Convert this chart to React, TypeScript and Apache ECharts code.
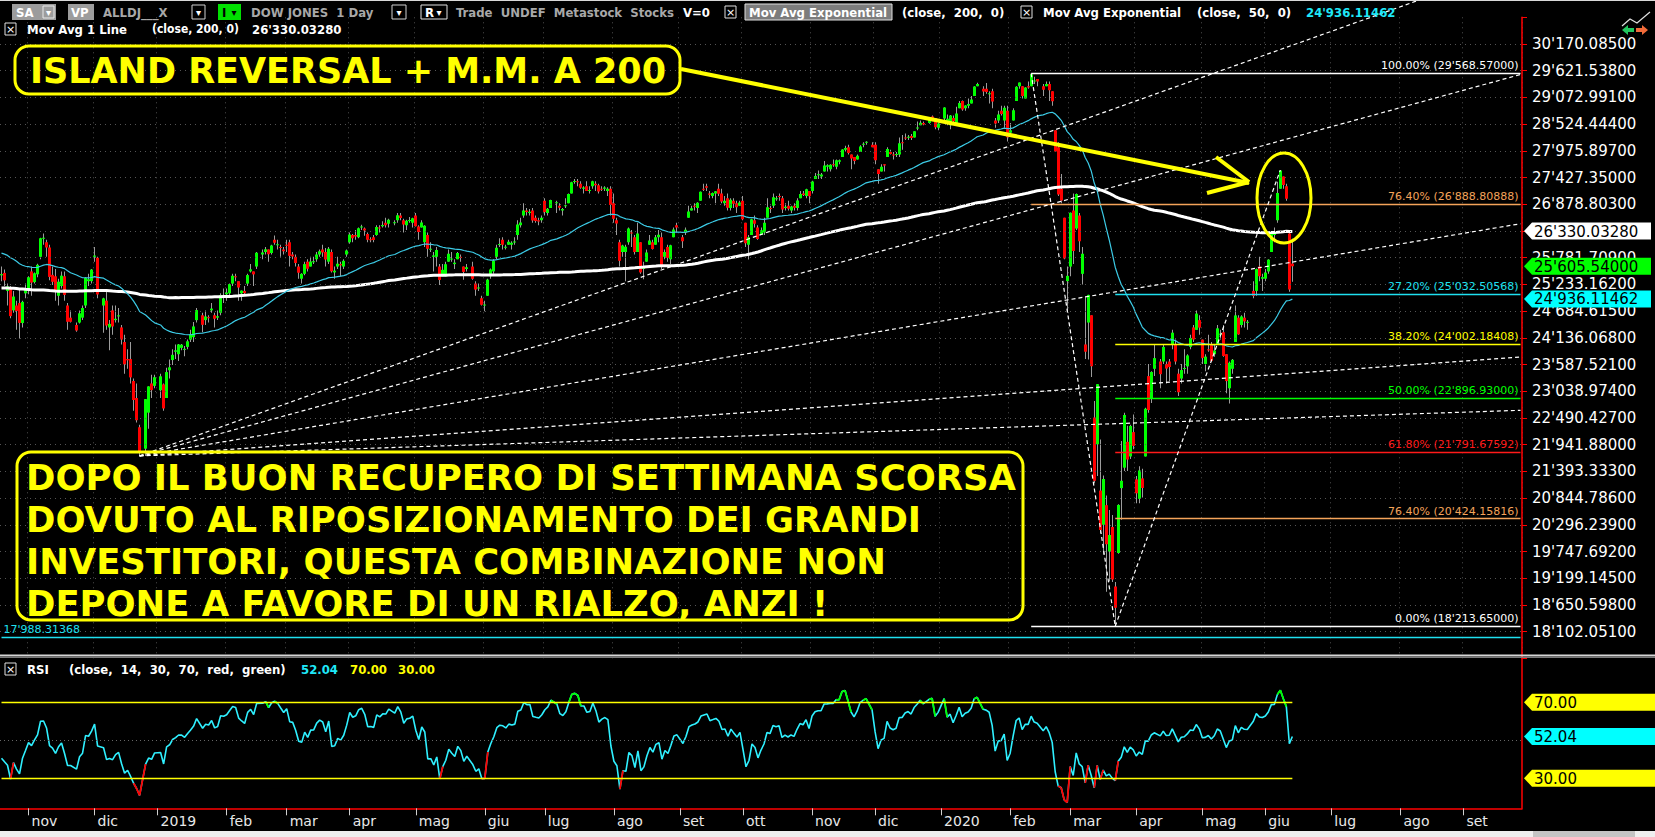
import { useEffect, useRef } from 'react';
import * as echarts from 'echarts';

// Daily closes Jan 2 – Oct 18, 2018 (needed so the 200/50-day averages and the RSI are warmed up)
const CLOSES_2018: number[] = [
  24824, 24922, 25075, 25295, 25283, 25385, 25370, 25574, 25803, 25792, 26116, 26017, 26072, 26214, 26211, 26252, 26392, 26617, 26439, 26077, 26149,
  26187, 25521, 24346, 24913, 24893, 23861, 24191, 24601, 24640, 24893, 25201, 25219, 24965, 24798, 24963, 25310, 25709, 25410, 25029,
  24609, 24538, 24875, 24885, 24801, 24896, 25336, 25179, 25008, 24758, 24873, 24947, 24611, 24727, 24683, 23958, 23533, 24202, 23857, 23849, 24103,
  23644, 24034, 24265, 24505, 23933, 23979, 24408, 24190, 24483, 24361, 24573, 24786, 24748, 24665, 24463, 24449, 24024, 24084, 24323, 24311, 24163,
  24100, 23925, 23930, 24263, 24357, 24361, 24543, 24740, 24831, 24899, 24706, 24769, 24714, 24715, 25013, 24834, 24887, 24812, 24753, 24362, 24668, 24416,
  24635, 24814, 24800, 25146, 25241, 25317, 25322, 25320, 25201, 25175, 25090, 24987, 24700, 24657, 24461, 24581, 24252, 24284, 24117, 24216, 24271,
  24307, 24175, 24357, 24457, 24776, 24920, 24700, 24925, 25019, 25064, 25120, 25200, 25065, 25058, 25044, 25241, 25415, 25527, 25451, 25307, 25415,
  25333, 25327, 25463, 25502, 25629, 25584, 25509, 25313, 25188, 25300, 25162, 25559, 25669, 25759, 25823, 25733, 25656, 25790, 26050, 26065, 26124, 25987, 25965,
  25952, 25975, 25996, 25917, 25857, 25971, 25999, 26145, 26155, 26062, 26246, 26406, 26657, 26744, 26562, 26493, 26385, 26440, 26458,
  26651, 26774, 26828, 26627, 26447, 26487, 26431, 25599, 25053, 25340, 25250, 25798, 25706, 25380,
];

// Weekday market holidays inside the plotted window (empty slots on the time axis)
const HOLIDAYS: string[] = [
  '2018-11-22', '2018-12-05', '2018-12-25', '2019-01-01', '2019-01-21', '2019-02-18', '2019-04-19', '2019-05-27',
  '2019-07-04', '2019-09-02', '2019-11-28', '2019-12-25', '2020-01-01', '2020-01-20', '2020-02-17', '2020-04-10', '2020-05-25',
];

// First and last weekday shown on the time axis
const FIRST_DAY = '2018-10-19';
const LAST_DAY = '2020-09-28';

// Daily candles [open, close, low, high], trading days from 2018-10-19 to 2020-06-12
const CANDLES: number[][] = [
  // ott 2018
  [25420, 25444, 25300, 25600], [25470, 25317, 25200, 25540], [25100, 25191, 24800, 25250], [25180, 24583, 24540, 25200], [24700, 24984, 24650, 25100],
  [24800, 24688, 24300, 24900], [24850, 24443, 24120, 25150], [24440, 24875, 24350, 24900], [25050, 25116, 24950, 25250],
  // nov 2018
  [25130, 25380, 25030, 25400], [25500, 25271, 25000, 25600], [25280, 25462, 25250, 25480], [25440, 25635, 25380, 25660], [25800, 26181, 25750, 26190],
  [26180, 26191, 26050, 26280], [26100, 25989, 25800, 26150], [25990, 25387, 25320, 26050], [25430, 25287, 25220, 25600], [25400, 25080, 24900, 25550],
  [25000, 25289, 24800, 25350], [25200, 25413, 25150, 25500], [25400, 25018, 24900, 25500], [24800, 24466, 24300, 24850], [24550, 24465, 24450, 24700],
  [24400, 24286, 24260, 24450], [24450, 24640, 24430, 24700], [24550, 24748, 24500, 24800], [24800, 25366, 24750, 25380], [25300, 25339, 25200, 25450],
  [25300, 25538, 25250, 25550],
  // dic 2018
  [25800, 25826, 25700, 26000], [25780, 25027, 24950, 25800], [24800, 24947, 24240, 24960], [24900, 24389, 24300, 25100], [24350, 24423, 23880, 24500],
  [24700, 24370, 24200, 24800], [24500, 24527, 24450, 24800], [24580, 24597, 24450, 24750], [24350, 24101, 24000, 24400], [24050, 23592, 23400, 24200],
  [23700, 23675, 23500, 23900], [23700, 23324, 23200, 24050], [23250, 22860, 22640, 23300], [22900, 22445, 22400, 23200], [22300, 21792, 21712, 22350],
  [21860, 22878, 21712, 22880], [22600, 23139, 22270, 23140], [23200, 23062, 22900, 23380], [23150, 23327, 23100, 23380],
  // gen 2019
  [23060, 23346, 22900, 23400], [23180, 22686, 22640, 23200], [22900, 23433, 22900, 23520], [23470, 23531, 23300, 23690], [23680, 23787, 23580, 23900],
  [23850, 23879, 23700, 24000], [23800, 24001, 23660, 24010], [23930, 23996, 23880, 24010], [23900, 23910, 23760, 23970], [23950, 24065, 23900, 24100],
  [24100, 24207, 24050, 24300], [24150, 24370, 24050, 24460], [24500, 24706, 24450, 24750], [24600, 24404, 24250, 24650], [24500, 24575, 24400, 24700],
  [24560, 24553, 24450, 24600], [24700, 24737, 24650, 24850], [24600, 24528, 24350, 24650], [24550, 24580, 24500, 24700], [24650, 25014, 24600, 25050],
  [25000, 24999, 24850, 25150],
  // feb 2019
  [25030, 25064, 24900, 25150], [25050, 25239, 25000, 25250], [25250, 25411, 25200, 25450], [25400, 25390, 25300, 25450], [25300, 25169, 24900, 25300],
  [25050, 25106, 24900, 25110], [25100, 25053, 25000, 25200], [25250, 25425, 25200, 25450], [25500, 25543, 25480, 25650], [25500, 25439, 25200, 25500],
  [25600, 25883, 25550, 25900], [25850, 25891, 25750, 25950], [25900, 25954, 25850, 26000], [25950, 25851, 25700, 25950], [25880, 26032, 25850, 26050],
  [26150, 26091, 26050, 26240], [26050, 26057, 25950, 26150], [26000, 25986, 25800, 26050], [25950, 25916, 25850, 26000],
  // mar 2019
  [26050, 26026, 25900, 26150], [26100, 25819, 25600, 26150], [25850, 25807, 25750, 25900], [25800, 25673, 25600, 25850], [25600, 25473, 25350, 25650],
  [25350, 25450, 25250, 25460], [25450, 25650, 25420, 25700], [25700, 25555, 25500, 25750], [25600, 25703, 25600, 25800], [25700, 25709, 25650, 25800],
  [25750, 25849, 25700, 25900], [25850, 25914, 25800, 25950], [25950, 25888, 25800, 26050], [25900, 25746, 25600, 25980], [25700, 25963, 25650, 26000],
  [25900, 25502, 25480, 25950], [25480, 25516, 25350, 25600], [25600, 25658, 25550, 25800], [25650, 25626, 25400, 25700], [25600, 25718, 25550, 25750],
  [25850, 25929, 25800, 25950],
  // apr 2019
  [26100, 26258, 26070, 26300], [26250, 26180, 26100, 26270], [26250, 26218, 26150, 26350], [26200, 26385, 26180, 26400], [26400, 26425, 26350, 26460],
  [26380, 26341, 26230, 26400], [26270, 26151, 26100, 26300], [26160, 26157, 26100, 26200], [26200, 26143, 26100, 26250], [26250, 26412, 26230, 26450],
  [26400, 26385, 26300, 26450], [26430, 26453, 26400, 26530], [26500, 26450, 26400, 26600], [26480, 26559, 26400, 26580], [26500, 26512, 26450, 26550],
  [26550, 26656, 26500, 26700], [26650, 26597, 26550, 26700], [26550, 26462, 26300, 26580], [26450, 26543, 26350, 26560], [26550, 26554, 26500, 26620],
  [26500, 26593, 26400, 26600],
  // mag 2019
  [26650, 26430, 26420, 26700], [26420, 26308, 26150, 26450], [26400, 26505, 26400, 26550], [26100, 26438, 26000, 26450], [26250, 25965, 25800, 26300],
  [25950, 25968, 25900, 26100], [25800, 25828, 25500, 25900], [25800, 25942, 25600, 26000], [25600, 25325, 25220, 25650], [25400, 25533, 25400, 25650],
  [25400, 25648, 25400, 25700], [25700, 25863, 25700, 25950], [25750, 25764, 25700, 25900], [25650, 25680, 25550, 25750], [25750, 25877, 25750, 25900],
  [25800, 25776, 25700, 25850], [25600, 25490, 25330, 25600], [25550, 25586, 25500, 25650], [25600, 25348, 25330, 25700], [25250, 25127, 25000, 25300],
  [25150, 25170, 25100, 25250], [24950, 24815, 24800, 25000],
  // giu 2019
  [24800, 24820, 24680, 24900], [25000, 25332, 25000, 25350], [25400, 25540, 25350, 25560], [25500, 25720, 25450, 25750], [25800, 25984, 25750, 26050],
  [26050, 26062, 26000, 26180], [26150, 26049, 25950, 26200], [26000, 26005, 25950, 26050], [26050, 26107, 26050, 26150], [26050, 26090, 25950, 26120],
  [26100, 26112, 26050, 26200], [26250, 26466, 26150, 26550], [26450, 26504, 26400, 26600], [26650, 26753, 26600, 26900], [26750, 26720, 26650, 26800],
  [26700, 26727, 26650, 26780], [26750, 26548, 26500, 26800], [26600, 26537, 26500, 26650], [26550, 26527, 26450, 26600], [26550, 26600, 26500, 26650],
  // lug 2019
  [26950, 26718, 26650, 27000], [26700, 26787, 26650, 26800], [26800, 26966, 26800, 26970], [26900, 26922, 26700, 26950], [26850, 26806, 26750, 26900],
  [26750, 26783, 26650, 26800], [26850, 26860, 26800, 27000], [26900, 27089, 26900, 27100], [27100, 27332, 27100, 27340], [27350, 27359, 27300, 27400],
  [27350, 27336, 27250, 27400], [27300, 27220, 27200, 27350], [27200, 27223, 27100, 27250], [27250, 27154, 27150, 27350], [27150, 27172, 27100, 27250],
  [27250, 27350, 27200, 27360], [27300, 27270, 27150, 27350], [27270, 27141, 27100, 27300], [27200, 27193, 27150, 27250], [27200, 27221, 27150, 27250],
  [27150, 27199, 27050, 27230], [27200, 26864, 26650, 27250],
  // ago 2019
  [26900, 26583, 26500, 27100], [26550, 26485, 26250, 26600], [26100, 25718, 25600, 26150], [25900, 26030, 25800, 26050], [25900, 26008, 25300, 26050],
  [26100, 26379, 26050, 26400], [26300, 26287, 26000, 26350], [26200, 25897, 25850, 26250], [25900, 26280, 25900, 26500], [26100, 25480, 25450, 26100],
  [25550, 25579, 25340, 25700], [25700, 25886, 25700, 25950], [26050, 26136, 26050, 26250], [26100, 25962, 25950, 26150], [26050, 26202, 26050, 26250],
  [26200, 26253, 26100, 26350], [26200, 25629, 25550, 26300], [25800, 25899, 25750, 25950], [26000, 25778, 25700, 26050], [25750, 26036, 25650, 26050],
  [26200, 26363, 26200, 26400], [26450, 26403, 26300, 26500],
  // set 2019
  [26200, 26118, 25980, 26250], [26300, 26355, 26250, 26400], [26600, 26728, 26600, 26850], [26750, 26797, 26750, 26850], [26850, 26835, 26750, 26900],
  [26800, 26910, 26700, 26920], [26950, 27137, 26950, 27140], [27200, 27182, 27150, 27300], [27250, 27220, 27150, 27300], [27100, 27076, 27000, 27150],
  [27050, 27111, 27000, 27120], [27100, 27147, 26900, 27150], [27200, 27094, 27050, 27300], [27100, 26935, 26900, 27200], [26900, 26949, 26850, 27050],
  [27000, 26808, 26750, 27100], [26800, 26970, 26750, 27000], [26950, 26891, 26800, 27000], [26900, 26820, 26700, 26950], [26850, 26917, 26850, 26950],
  // ott 2019
  [26950, 26573, 26550, 27050], [26500, 26079, 26000, 26500], [26050, 26202, 25743, 26250], [26250, 26573, 26250, 26580], [26550, 26478, 26400, 26650],
  [26400, 26165, 26150, 26450], [26250, 26347, 26250, 26400], [26300, 26497, 26250, 26600], [26600, 26817, 26600, 27000], [26800, 26787, 26700, 26850],
  [26850, 27025, 26800, 27100], [27000, 27001, 26950, 27050], [27050, 27026, 26950, 27100], [27000, 26770, 26700, 27050], [26800, 26828, 26750, 26900],
  [26850, 26788, 26750, 26950], [26750, 26834, 26700, 26850], [26850, 26806, 26750, 26900], [26800, 26958, 26750, 27000], [27000, 27091, 27000, 27150],
  [27100, 27071, 27050, 27150], [27050, 27186, 27000, 27200], [27150, 27046, 26900, 27150],
  // nov 2019
  [27150, 27347, 27100, 27360], [27400, 27462, 27400, 27520], [27480, 27493, 27400, 27570], [27450, 27492, 27400, 27520], [27550, 27675, 27550, 27770],
  [27650, 27681, 27550, 27700], [27600, 27691, 27550, 27700], [27700, 27691, 27650, 27800], [27650, 27784, 27600, 27800], [27750, 27782, 27700, 27800],
  [27850, 28005, 27850, 28010], [28000, 28036, 27950, 28080], [28050, 27934, 27900, 28100], [27900, 27821, 27600, 27900], [27850, 27767, 27700, 27850],
  [27800, 27876, 27800, 27900], [27950, 28067, 27950, 28090], [28100, 28122, 28050, 28150], [28150, 28164, 28100, 28175], [28100, 28051, 28050, 28150],
  // dic 2019
  [28100, 27783, 27700, 28150], [27600, 27503, 27300, 27600], [27550, 27650, 27550, 27700], [27700, 27677, 27550, 27700], [27850, 28015, 27850, 28050],
  [27950, 27909, 27900, 28000], [27900, 27882, 27800, 27950], [27900, 27911, 27850, 27950], [27900, 28132, 27850, 28250], [28150, 28135, 28000, 28300],
  [28250, 28235, 28200, 28330], [28250, 28267, 28200, 28300], [28280, 28239, 28200, 28320], [28250, 28377, 28250, 28380], [28450, 28455, 28400, 28580],
  [28500, 28551, 28500, 28600], [28550, 28515, 28500, 28580], [28550, 28621, 28530, 28630], [28680, 28645, 28600, 28700], [28650, 28462, 28420, 28650],
  [28450, 28538, 28400, 28560],
  // gen 2020
  [28640, 28868, 28600, 28870], [28550, 28634, 28500, 28720], [28500, 28703, 28420, 28710], [28650, 28584, 28550, 28700], [28550, 28745, 28500, 28880],
  [28850, 28957, 28850, 29000], [29000, 28824, 28800, 29010], [28850, 28907, 28800, 28910], [28900, 28940, 28850, 29050], [28950, 29030, 28950, 29100],
  [29100, 29298, 29100, 29300], [29300, 29348, 29300, 29375], [29250, 29196, 29100, 29300], [29250, 29186, 29150, 29370], [29150, 29160, 28950, 29200],
  [29200, 28990, 28850, 29250], [28600, 28536, 28450, 28650], [28600, 28723, 28550, 28800], [28800, 28734, 28700, 28900], [28600, 28859, 28450, 28900],
  [28800, 28256, 28170, 28900],
  // feb 2020
  [28350, 28400, 28300, 28550], [28600, 28808, 28600, 28850], [29000, 29291, 29000, 29300], [29300, 29380, 29250, 29380], [29300, 29103, 29050, 29300],
  [29050, 29276, 29050, 29280], [29300, 29276, 29250, 29400], [29300, 29551, 29300, 29568.57], [29400, 29423, 29350, 29500], [29450, 29398, 29300, 29450],
  [29300, 29232, 29100, 29350], [29300, 29348, 29300, 29400], [29350, 29219, 29000, 29400], [29200, 28992, 28900, 29200], [28400, 27961, 27950, 28400],
  [28050, 27081, 27050, 28150], [27200, 26957, 26900, 27500], [26600, 25766, 25750, 26600], [25300, 25409, 24680, 25600],
  // mar 2020
  [25600, 26703, 25400, 26710], [26750, 25917, 25650, 27100], [26380, 27091, 26350, 27100], [26650, 26121, 25900, 26700], [25450, 25865, 25230, 26000],
  [24000, 23851, 23700, 24990], [24450, 25018, 23690, 25020], [24600, 23553, 23330, 24600], [22500, 21200, 21150, 22840], [21950, 23185, 21300, 23190],
  [21000, 20189, 20120, 22050], [20300, 21237, 19680, 21310], [20700, 19899, 18920, 20900], [19750, 20087, 19130, 20600], [20250, 19174, 19120, 20500],
  [19030, 18592, 18213.65, 19120], [19720, 20705, 19700, 20720], [21050, 21201, 20400, 22020], [21470, 22552, 21400, 22600], [22000, 21637, 21400, 22330],
  [21700, 22327, 21650, 22350], [22200, 21917, 21850, 22560],
  // apr 2020
  [21230, 20944, 20740, 21300], [20830, 21413, 20740, 21500], [21250, 21053, 20860, 21450], [21700, 22680, 21700, 22700], [23350, 22654, 22600, 23600],
  [22900, 23434, 22800, 23450], [23500, 23720, 23350, 24000], [23650, 23390, 23100, 23700], [23650, 23950, 23600, 24000], [23600, 23505, 23200, 23650],
  [23650, 23538, 23250, 23700], [24000, 24242, 23900, 24300], [24000, 23650, 23600, 24100], [23400, 23019, 22940, 23500], [23300, 23475, 23200, 23600],
  [23500, 23516, 23400, 23900], [23550, 23775, 23400, 23800], [23950, 24134, 23900, 24200], [24350, 24102, 24050, 24400], [24300, 24634, 24300, 24700],
  [24500, 24346, 24200, 24600],
  // mag 2020
  [24100, 23724, 23600, 24100], [23600, 23750, 23450, 23800], [23900, 23883, 23850, 24200], [24000, 23664, 23650, 24050], [23800, 23875, 23750, 24000],
  [24000, 24331, 24000, 24400], [24200, 24222, 24100, 24300], [24250, 23764, 23750, 24400], [23800, 23248, 23000, 23800], [23100, 23625, 22790, 23650],
  [23500, 23685, 23400, 23700], [24050, 24597, 24050, 24800], [24550, 24207, 24200, 24600], [24400, 24576, 24350, 24600], [24550, 24474, 24350, 24650],
  [24450, 24465, 24300, 24500], [25100, 24995, 24950, 25300], [25100, 25548, 25000, 25560], [25600, 25401, 25300, 25800], [25350, 25383, 25100, 25450],
  // giu 2020
  [25350, 25475, 25300, 25550], [25500, 25742, 25450, 25750], [25900, 26270, 25900, 26300], [26250, 26282, 26100, 26400], [26550, 27111, 26500, 27340],
  [27200, 27572, 27200, 27580.22], [27450, 27273, 27200, 27450], [27250, 26990, 26950, 27300], [26280, 25128, 25080, 26300], [25660, 25605.54, 25290, 26170],
];

// Right-hand price scale
const PRICE_TICKS: number[] = [
  18102.051, 18650.598, 19199.145, 19747.692, 20296.239, 20844.786, 21393.333, 21941.88, 22490.427, 23038.974, 23587.521, 24136.068,
  24684.615, 25233.162, 25781.709, 26330.256, 26878.803, 27427.35, 27975.897, 28524.444, 29072.991, 29621.538, 30170.085,
];
const PRICE_STEP = 548.547;

// Fibonacci retracements: Feb-high → Mar-low, and Mar-low → Jun-high
const FIB_PCT: string[] = ['100.00%', '76.40%', '0.00%', '27.20%', '38.20%', '50.00%', '61.80%', '76.40%'];
const FIB_VALUE: number[] = [29568.57, 26888.80888, 18213.65, 25032.50568, 24002.18408, 22896.93, 21791.67592, 20424.15816];
const FIB_FROM: string[] = ['2020-02-12', '2020-02-12', '2020-02-12', '2020-03-23', '2020-03-23', '2020-03-23', '2020-03-23', '2020-03-23'];

// Horizontal support line
const SUPPORT_VALUE = 17988.31368;

// Dashed trend / fan lines as [date, price] → [date, price]
const TREND_LINES: [string, number, string, number][] = [
  ['2020-02-12', 29568.57, '2020-03-23', 18213.65],
  ['2020-03-23', 18213.65, '2020-06-08', 27580.22],
  ['2018-12-24', 21712, LAST_DAY, 31814],
  ['2018-12-24', 21712, LAST_DAY, 29544],
  ['2018-12-24', 21712, LAST_DAY, 26479],
  ['2018-12-24', 21712, LAST_DAY, 23743],
  ['2018-12-24', 21712, LAST_DAY, 22648],
];

// Last readings printed in the headers and on the scales
const SMA200_LAST = 26330.0328;
const EMA50_LAST = 24936.11462;
const CLOSE_LAST = 25605.54;
const RSI_LAST = 52.04;
const RSI_UPPER = 70;
const RSI_LOWER = 30;

const MONTHS = ['gen', 'feb', 'mar', 'apr', 'mag', 'giu', 'lug', 'ago', 'set', 'ott', 'nov', 'dic'];

const NOTE_TITLE = 'ISLAND REVERSAL + M.M. A 200';
const NOTE_LINES = [
  'DOPO IL BUON RECUPERO DI SETTIMANA SCORSA',
  'DOVUTO AL RIPOSIZIONAMENTO DEI GRANDI',
  'INVESTITORI, QUESTA COMBINAZIONE NON',
  'DEPONE A FAVORE DI UN RIALZO, ANZI !',
];

// ---------------------------------------------------------------------------

const UI_FONT = '"DejaVu Sans Condensed", "DejaVu Sans", sans-serif';
const AXIS_FONT = '"DejaVu Sans", sans-serif';

const fmtPrice = (v: number) => {
  const [i, d] = v.toFixed(5).split('.');
  return i.replace(/\B(?=(\d{3})+(?!\d))/g, "'") + '.' + d;
};

const buildSlots = () => {
  const out: string[] = [];
  const d = new Date(FIRST_DAY + 'T00:00:00Z');
  const end = new Date(LAST_DAY + 'T00:00:00Z').getTime();
  while (d.getTime() <= end) {
    const wd = d.getUTCDay();
    if (wd !== 0 && wd !== 6) out.push(d.toISOString().slice(0, 10));
    d.setUTCDate(d.getUTCDate() + 1);
  }
  return out;
};

const SLOTS = buildSlots();
const N = SLOTS.length;

// slot index of every trading day
const TRADE_SLOT: number[] = (() => {
  const hol = new Set(HOLIDAYS);
  const out: number[] = [];
  for (let s = 0; s < N && out.length < CANDLES.length; s++) {
    if (!hol.has(SLOTS[s])) out.push(s);
  }
  return out;
})();

const closesAll = CLOSES_2018.concat(CANDLES.map((c) => c[1]));
const OFF = CLOSES_2018.length;

const smaSeries = (n: number) => {
  const out: (number | null)[] = closesAll.map(() => null);
  let sum = 0;
  for (let i = 0; i < closesAll.length; i++) {
    sum += closesAll[i];
    if (i >= n) sum -= closesAll[i - n];
    if (i >= n - 1) out[i] = sum / n;
  }
  return out;
};

const emaSeries = (n: number) => {
  const out: (number | null)[] = closesAll.map(() => null);
  const k = 2 / (n + 1);
  let e = 0;
  for (let i = 0; i < n; i++) e += closesAll[i];
  e /= n;
  out[n - 1] = e;
  for (let i = n; i < closesAll.length; i++) {
    e = closesAll[i] * k + e * (1 - k);
    out[i] = e;
  }
  return out;
};

const rsiSeries = (n: number) => {
  const out: (number | null)[] = closesAll.map(() => null);
  let g = 0;
  let l = 0;
  for (let i = 1; i <= n; i++) {
    const ch = closesAll[i] - closesAll[i - 1];
    if (ch > 0) g += ch;
    else l -= ch;
  }
  g /= n;
  l /= n;
  out[n] = 100 - 100 / (1 + g / l);
  for (let i = n + 1; i < closesAll.length; i++) {
    const ch = closesAll[i] - closesAll[i - 1];
    g = (g * (n - 1) + Math.max(ch, 0)) / n;
    l = (l * (n - 1) + Math.max(-ch, 0)) / n;
    out[i] = l === 0 ? 100 : 100 - 100 / (1 + g / l);
  }
  return out;
};

const toSlots = (vals: (number | null)[]) => {
  const out: (number | null)[] = new Array(N).fill(null);
  TRADE_SLOT.forEach((s, j) => {
    out[s] = vals[j + OFF];
  });
  return out;
};

const SMA200 = toSlots(smaSeries(200));
const EMA50 = toSlots(emaSeries(50));
const RSI_ALL = rsiSeries(14);
const RSI = toSlots(RSI_ALL);

const isMonthStart = (i: number) => i > 0 && SLOTS[i].slice(0, 7) !== SLOTS[i - 1].slice(0, 7);
const slotOf = (d: string) => SLOTS.indexOf(d);

const rsiOverlay = (test: (v: number) => boolean) => {
  const out: any[] = [];
  for (let j = 1; j < CANDLES.length; j++) {
    const a = RSI_ALL[j - 1 + OFF];
    const b = RSI_ALL[j + OFF];
    if (a != null && b != null && test(a)) {
      out.push([TRADE_SLOT[j - 1], a], [TRADE_SLOT[j], b], [TRADE_SLOT[j], '-']);
    }
  }
  return out;
};

// Liang–Barsky clip of a segment to a rectangle
const clipSegment = (x1: number, y1: number, x2: number, y2: number, xmin: number, ymin: number, xmax: number, ymax: number) => {
  let t0 = 0;
  let t1 = 1;
  const dx = x2 - x1;
  const dy = y2 - y1;
  const p = [-dx, dx, -dy, dy];
  const q = [x1 - xmin, xmax - x1, y1 - ymin, ymax - y1];
  for (let i = 0; i < 4; i++) {
    if (p[i] === 0) {
      if (q[i] < 0) return null;
    } else {
      const t = q[i] / p[i];
      if (p[i] < 0) {
        if (t > t1) return null;
        if (t > t0) t0 = t;
      } else {
        if (t < t0) return null;
        if (t < t1) t1 = t;
      }
    }
  }
  return [x1 + t0 * dx, y1 + t0 * dy, x1 + t1 * dx, y1 + t1 * dy];
};

const FIB_COLORS = ['#ffffff', '#f4a35a', '#ffffff', '#1fe0f0', '#ffff00', '#00ff00', '#ff1a1a', '#f4a35a'];

function buildOption(): any {
  const lastSlot = TRADE_SLOT[TRADE_SLOT.length - 1];
  const candleData = CANDLES.map((c, j) => [TRADE_SLOT[j], c[0], c[1], c[2], c[3]]);

  const xBase = {
    type: 'category',
    data: SLOTS,
    boundaryGap: true,
    axisLine: { show: false },
    axisTick: { show: false },
    axisLabel: { show: false },
    splitLine: {
      show: true,
      interval: (i: number) => isMonthStart(i),
      lineStyle: { color: '#4d4d4d', type: [1, 4], width: 1 },
    },
  };

  return {
    animation: false,
    backgroundColor: '#000000',
    grid: [
      { left: -1, width: 1523, top: 17.287, height: 641.107 },
      { left: -1, width: 1523, top: 656.7, height: 151.6 },
    ],
    xAxis: [
      { ...xBase, gridIndex: 0 },
      {
        ...xBase,
        gridIndex: 1,
        axisLine: { show: true, lineStyle: { color: '#ff0000', width: 1.5 } },
        axisTick: {
          show: true,
          alignWithLabel: true,
          interval: (i: number) => isMonthStart(i),
          length: 7,
          lineStyle: { color: '#d0d0d0' },
        },
        axisLabel: {
          show: true,
          interval: (i: number) => isMonthStart(i),
          formatter: (v: string) => {
            const m = +v.slice(5, 7);
            return m === 1 ? v.slice(0, 4) : MONTHS[m - 1];
          },
          color: '#e8e8e8',
          fontSize: 14,
          fontFamily: AXIS_FONT,
          align: 'left',
          padding: [0, 0, 0, 3],
          margin: 6,
        },
        splitLine: { show: false },
      },
    ],
    yAxis: [
      {
        type: 'value',
        gridIndex: 0,
        position: 'right',
        min: PRICE_TICKS[0] - PRICE_STEP,
        max: PRICE_TICKS[PRICE_TICKS.length - 1] + PRICE_STEP,
        interval: PRICE_STEP,
        axisLine: { show: true, lineStyle: { color: '#ff0000', width: 1.5 } },
        axisTick: { show: true, length: 5, lineStyle: { color: '#ff0000' } },
        axisLabel: {
          margin: 10,
          color: '#ffffff',
          fontSize: 15,
          fontFamily: AXIS_FONT,
          formatter: (v: number) => (v < PRICE_TICKS[0] - 1 || v > PRICE_TICKS[PRICE_TICKS.length - 1] + 1 ? '' : fmtPrice(v)),
        },
        splitLine: { show: false },
      },
      {
        type: 'value',
        gridIndex: 1,
        position: 'right',
        min: 14.21,
        max: 94,
        axisLine: { show: true, lineStyle: { color: '#ff0000', width: 1.5 } },
        axisTick: { show: false },
        axisLabel: { show: false },
        splitLine: { show: false },
      },
    ],
    series: [
      // dotted price grid
      {
        name: 'grid',
        type: 'line',
        data: [],
        z: 1,
        markLine: {
          silent: true,
          symbol: ['none', 'none'],
          label: { show: false },
          lineStyle: { color: '#555555', type: [1, 4], width: 1 },
          data: PRICE_TICKS.map((v) => ({ yAxis: v })),
        },
      },
      {
        name: 'candles',
        type: 'custom',
        z: 2,
        clip: true,
        data: candleData,
        encode: { x: 0, y: [1, 2, 3, 4] },
        renderItem: (_p: any, api: any) => {
          const i = api.value(0);
          const o = api.value(1);
          const c = api.value(2);
          const lo = api.value(3);
          const hi = api.value(4);
          const pTop = api.coord([i, Math.max(o, c)]);
          const pBot = api.coord([i, Math.min(o, c)]);
          const pHi = api.coord([i, hi]);
          const pLo = api.coord([i, lo]);
          const x = Math.floor(pTop[0]);
          return {
            type: 'group',
            children: [
              { type: 'rect', shape: { x, y: pHi[1], width: 1, height: Math.max(1, pLo[1] - pHi[1]) }, style: { fill: '#9c9c9c' } },
              {
                type: 'rect',
                shape: { x: x - 1, y: pTop[1], width: 3, height: Math.max(1, pBot[1] - pTop[1]) },
                style: { fill: c >= o ? '#00ff00' : '#ff0000' },
              },
            ],
          };
        },
      },
      {
        name: 'fibo',
        type: 'line',
        data: [],
        z: 3,
        markLine: {
          silent: true,
          symbol: ['none', 'none'],
          data: [
            ...FIB_VALUE.map((v, k) => [
              {
                coord: [slotOf(FIB_FROM[k]), v],
                lineStyle: { color: FIB_COLORS[k], width: 1.3, type: 'solid' },
                label: {
                  show: true,
                  position: 'insideEndTop',
                  distance: 2,
                  formatter: `${FIB_PCT[k]} (${fmtPrice(v)})`,
                  color: FIB_COLORS[k],
                  fontSize: 11,
                  fontFamily: AXIS_FONT,
                },
              },
              { coord: [N - 1, v] },
            ]),
            [
              {
                coord: [0, SUPPORT_VALUE],
                lineStyle: { color: '#1fe0f0', width: 1.3, type: 'solid' },
                label: {
                  show: true,
                  position: 'insideStartTop',
                  distance: 2,
                  formatter: fmtPrice(SUPPORT_VALUE),
                  color: '#1fe0f0',
                  fontSize: 11,
                  fontFamily: AXIS_FONT,
                },
              },
              { coord: [N - 1, SUPPORT_VALUE] },
            ],
          ],
        },
      },
      {
        name: 'SMA 200',
        type: 'line',
        data: SMA200,
        z: 4,
        showSymbol: false,
        connectNulls: true,
        lineStyle: { color: '#ffffff', width: 3 },
      },
      {
        name: 'EMA 50',
        type: 'line',
        data: EMA50,
        z: 4,
        showSymbol: false,
        connectNulls: true,
        lineStyle: { color: '#3ccbe6', width: 1.2 },
      },
      // RSI pane
      {
        name: 'rsiLevels',
        type: 'line',
        xAxisIndex: 1,
        yAxisIndex: 1,
        data: [],
        z: 1,
        markLine: {
          silent: true,
          symbol: ['none', 'none'],
          label: { show: false },
          data: [
            [{ coord: [0, RSI_UPPER], lineStyle: { color: '#ffff00', width: 1.3, type: 'solid' } }, { coord: [lastSlot, RSI_UPPER] }],
            [{ coord: [0, RSI_LOWER], lineStyle: { color: '#ffff00', width: 1.3, type: 'solid' } }, { coord: [lastSlot, RSI_LOWER] }],
            { yAxis: 50, lineStyle: { color: '#666666', width: 1, type: [1, 3] } },
          ],
        },
      },
      {
        name: 'RSI',
        type: 'line',
        xAxisIndex: 1,
        yAxisIndex: 1,
        data: RSI,
        z: 3,
        showSymbol: false,
        connectNulls: true,
        lineStyle: { color: '#2ff0ff', width: 1.6 },
      },
      {
        name: 'rsiLow',
        type: 'line',
        xAxisIndex: 1,
        yAxisIndex: 1,
        data: rsiOverlay((v) => v < RSI_LOWER),
        z: 4,
        showSymbol: false,
        connectNulls: false,
        lineStyle: { color: '#ff0000', width: 1.8 },
      },
      {
        name: 'rsiHigh',
        type: 'line',
        xAxisIndex: 1,
        yAxisIndex: 1,
        data: rsiOverlay((v) => v > RSI_UPPER),
        z: 4,
        showSymbol: false,
        connectNulls: false,
        lineStyle: { color: '#00ff00', width: 1.8 },
      },
    ],
  };
}

const txt = (x: number, y: number, text: string, fill: string, font: string, align = 'left') => ({
  type: 'text',
  x,
  y,
  z: 100,
  style: { text, fill, font, align, verticalAlign: 'middle' },
});

const rect = (x: number, y: number, w: number, h: number, style: any, r = 0) => ({
  type: 'rect',
  z: 99,
  shape: { x, y, width: w, height: h, r },
  style,
});

const checkBox = (x: number, y: number) => [
  rect(x, y - 6, 11, 12, { fill: '#000', stroke: '#e0e0e0', lineWidth: 1 }),
  txt(x + 5.5, y, '×', '#ffffff', `11px ${AXIS_FONT}`, 'center'),
];

const dropBox = (x: number, y: number, w: number) => [
  rect(x, y - 7, w, 14, { fill: '#000', stroke: '#d0d0d0', lineWidth: 1 }),
  txt(x + w / 2, y, '▾', '#ffffff', `10px ${AXIS_FONT}`, 'center'),
];

const priceTag = (y: number, text: string, fill: string, right: number) => ({
  type: 'group',
  z: 110,
  children: [
    {
      type: 'polygon',
      z: 110,
      shape: { points: [[1524, y], [1532, y - 8.5], [right, y - 8.5], [right, y + 8.5], [1532, y + 8.5]] },
      style: { fill },
    },
    { ...txt(1534, y + 0.5, text, '#000000', `15px ${AXIS_FONT}`), z: 111 },
  ],
});

function buildGraphics(chart: any): any[] {
  const py = (v: number) => chart.convertToPixel({ yAxisIndex: 0 }, v);
  const ry = (v: number) => chart.convertToPixel({ yAxisIndex: 1 }, v);
  const pt = (slot: number, v: number) => chart.convertToPixel({ xAxisIndex: 0, yAxisIndex: 0 }, [slot, v]);
  const b13 = `bold 13px ${UI_FONT}`;
  const b12 = `bold 12px ${UI_FONT}`;
  const title = `bold 35px ${AXIS_FONT}`;
  const note = `bold 35.4px ${AXIS_FONT}`;
  const g: any[] = [];

  // dashed trend lines, clipped to the price pane (they run up to the page top)
  const paneRight = pt(N - 1, PRICE_TICKS[0])[0];
  TREND_LINES.forEach((t) => {
    const a = pt(slotOf(t[0]), t[1]);
    const b = pt(slotOf(t[2]), t[3]);
    const c = clipSegment(a[0], a[1], b[0], b[1], 0, 0, paneRight, 652);
    if (!c) return;
    g.push({
      type: 'line',
      z: 40,
      silent: true,
      shape: { x1: c[0], y1: c[1], x2: c[2], y2: c[3] },
      style: { stroke: '#ffffff', lineWidth: 1.2, lineDash: [4, 3] },
    });
  });

  // frame pieces
  g.push(rect(0, 0, 1655, 1, { fill: '#d8d8d8' }));
  g.push(rect(0, 654.5, 1655, 2, { fill: '#d6d6d6' }));
  g.push(rect(0, 657, 1655, 1, { fill: '#7a7a7a' }));
  g.push(rect(0, 831, 1655, 6, { fill: '#efefef' }));
  g.push(rect(1533, 831, 102, 6, { fill: '#c4c4c4' }));

  // toolbar row
  const y1 = 12;
  g.push(rect(12, 4, 44, 16, { fill: '#9c9c9c' }));
  g.push(txt(16, y1, 'SA', '#ffffff', b13));
  g.push(rect(43, 6, 11, 12, { fill: '#9c9c9c', stroke: '#e8e8e8', lineWidth: 1 }));
  g.push(txt(48.5, y1, '▾', '#ffffff', `10px ${AXIS_FONT}`, 'center'));
  g.push(rect(68, 4, 26, 16, { fill: '#9c9c9c' }));
  g.push(txt(71, y1, 'VP', '#ffffff', b13));
  g.push(txt(103, y1, 'ALLDJ___X', '#a8a8a8', b13));
  g.push(...dropBox(192, y1, 13));
  g.push(rect(218, 4, 23, 16, { fill: '#00e000' }));
  g.push(txt(222, y1, 'I', '#000000', b13));
  g.push(txt(234, y1, '▾', '#000000', `10px ${AXIS_FONT}`, 'center'));
  g.push(txt(251, y1, 'DOW JONES  1 Day', '#a8a8a8', b13));
  g.push(...dropBox(392, y1, 14));
  g.push(rect(421, 5, 26, 14, { fill: '#000', stroke: '#e0e0e0', lineWidth: 1 }));
  g.push(txt(425, y1, 'R', '#ffffff', b13));
  g.push(txt(439, y1, '▾', '#ffffff', `10px ${AXIS_FONT}`, 'center'));
  g.push(txt(456, y1, 'Trade  UNDEF  Metastock  Stocks', '#a8a8a8', b13));
  g.push(txt(683, y1, 'V=0', '#ffffff', b13));
  g.push(...checkBox(725, y1));
  g.push(rect(745, 4, 147, 16, { fill: '#7c7c7c', stroke: '#e0e0e0', lineWidth: 1 }));
  g.push(txt(749, y1, 'Mov Avg Exponential', '#ffffff', b13));
  g.push(txt(902, y1, '(close,  200,  0)', '#ffffff', b13));
  g.push(...checkBox(1021, y1));
  g.push(txt(1043, y1, 'Mov Avg Exponential', '#ffffff', b13));
  g.push(txt(1197, y1, '(close,  50,  0)', '#ffffff', b13));
  g.push(txt(1306, y1, fmtPrice(EMA50_LAST), '#1fe8f8', b13));

  // second header row
  const y2 = 29;
  g.push(...checkBox(5, y2));
  g.push(txt(27, y2, 'Mov Avg 1 Line', '#ffffff', b13));
  g.push(txt(152, y2, '(close, 200, 0)', '#ffffff', b12));
  g.push(txt(252, y2, fmtPrice(SMA200_LAST), '#ffffff', b13));

  // small chart icon, top right
  g.push({ type: 'polyline', z: 100, shape: { points: [[1622, 26], [1630, 19], [1637, 23], [1650, 12]] }, style: { stroke: '#e0e0e0', lineWidth: 1.2, fill: 'none' } });
  g.push({ type: 'polygon', z: 100, shape: { points: [[1622, 30], [1628, 25], [1628, 35]] }, style: { fill: '#22c55e' } });
  g.push(rect(1628, 28, 6, 4, { fill: '#22c55e' }));
  g.push({ type: 'polygon', z: 100, shape: { points: [[1648, 30], [1642, 25], [1642, 35]] }, style: { fill: '#f26b3a' } });
  g.push(rect(1636, 28, 6, 4, { fill: '#f26b3a' }));

  // RSI header
  const y3 = 669;
  g.push(...checkBox(5, y3));
  g.push(txt(27, y3, 'RSI', '#ffffff', b13));
  g.push(txt(69, y3, '(close,  14,  30,  70,  red,  green)', '#ffffff', b13));
  g.push(txt(301, y3, RSI_LAST.toFixed(2), '#1fe8f8', b13));
  g.push(txt(350, y3, RSI_UPPER.toFixed(2), '#ffff00', b13));
  g.push(txt(398, y3, RSI_LOWER.toFixed(2), '#ffff00', b13));

  // annotations
  g.push({ type: 'rect', z: 95, shape: { x: 15, y: 46, width: 665, height: 48, r: 14 }, style: { fill: 'none', stroke: '#ffff00', lineWidth: 3 } });
  g.push(txt(30, 71, NOTE_TITLE, '#ffff00', title));
  g.push({ type: 'rect', z: 95, shape: { x: 17, y: 452, width: 1006, height: 168, r: 14 }, style: { fill: 'none', stroke: '#ffff00', lineWidth: 3 } });
  NOTE_LINES.forEach((line, k) => g.push(txt(26, 477 + k * 42.3, line, '#ffff00', note)));
  g.push({ type: 'line', z: 96, shape: { x1: 681, y1: 69, x2: 1249, y2: 183 }, style: { stroke: '#ffff00', lineWidth: 4 } });
  g.push({ type: 'line', z: 96, shape: { x1: 1216, y1: 157, x2: 1249, y2: 182 }, style: { stroke: '#ffff00', lineWidth: 4 } });
  g.push({ type: 'line', z: 96, shape: { x1: 1207, y1: 193, x2: 1249, y2: 182 }, style: { stroke: '#ffff00', lineWidth: 4 } });
  g.push({ type: 'ellipse', z: 96, shape: { cx: 1284, cy: 198, rx: 27, ry: 45 }, style: { fill: 'none', stroke: '#ffff00', lineWidth: 3 } });

  // value tags on the scales
  g.push(priceTag(py(SMA200_LAST), fmtPrice(SMA200_LAST), '#ffffff', 1651));
  g.push(priceTag(py(CLOSE_LAST), fmtPrice(CLOSE_LAST), '#00ff00', 1651));
  g.push(priceTag(py(EMA50_LAST), fmtPrice(EMA50_LAST), '#00ffff', 1651));
  g.push(priceTag(ry(RSI_UPPER), RSI_UPPER.toFixed(2), '#ffff00', 1655));
  g.push(priceTag(ry(RSI_LAST), RSI_LAST.toFixed(2), '#00ffff', 1655));
  g.push(priceTag(ry(RSI_LOWER), RSI_LOWER.toFixed(2), '#ffff00', 1655));

  return g;
}

export default function App() {
  const ref = useRef<HTMLDivElement>(null);
  useEffect(() => {
    if (!ref.current) return;
    const chart = echarts.init(ref.current, null, { renderer: 'svg' });
    chart.setOption(buildOption());
    chart.setOption({ graphic: buildGraphics(chart) });
    return () => chart.dispose();
  }, []);
  return (
    <div
      ref={ref}
      style={{ position: 'fixed', left: 0, top: 0, width: 1655, height: 837, background: '#000000' }}
    />
  );
}
